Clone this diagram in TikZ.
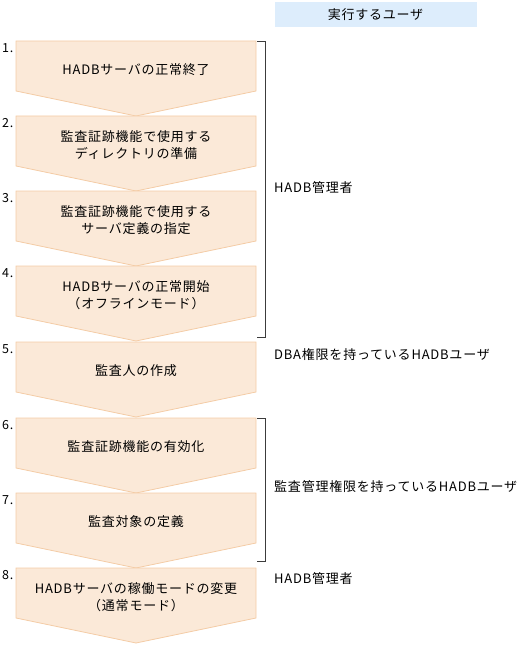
\documentclass[tikz,border=0pt]{standalone}
\usepackage{fontspec}
\setmainfont[LetterSpace=6]{Noto Sans CJK JP}
\definecolor{boxfill}{RGB}{251,233,216}
\definecolor{boxborder}{RGB}{244,204,166}
\definecolor{headfill}{RGB}{221,237,252}
\definecolor{bracketcol}{RGB}{60,60,60}
\tikzset{
  stepbox/.style={draw=boxborder, fill=boxfill, line width=0.8pt, line join=miter},
  steptext/.style={align=center, font=\fontsize{13}{17}\selectfont, inner sep=0pt},
  stepnum/.style={anchor=base west, font=\fontsize{12.5}{14}\selectfont, inner sep=0pt},
  userlabel/.style={anchor=west, font=\fontsize{13}{16}\selectfont, inner sep=0pt},
  headbox/.style={fill=headfill, draw=none, minimum width=202pt, minimum height=25pt, inner sep=0pt, font=\fontsize{13}{16}\selectfont},
  bracketline/.style={draw=bracketcol, line width=0.9pt},
}
\newcommand\flowstep[4]{%
  \draw[stepbox] (16,#2) -- (256,#2) -- (256,#2+50) -- (136,#2+75) -- (16,#2+50) -- cycle;
  \node[steptext] (#1) at (136,#2+29) {#4};
  \node[stepnum] (#1num) at (2,#2+11.5) {#3};
}
\begin{document}
\begin{tikzpicture}[x=1pt,y=-1pt]
\useasboundingbox (0,0) rectangle (519,647);
\node[headbox] (head) at (375.5,15) {実行するユーザ};
\flowstep{s1}{41}{1.}{HADBサーバの正常終了}
\flowstep{s2}{116}{2.}{監査証跡機能で使用する\\ディレクトリの準備}
\flowstep{s3}{191}{3.}{監査証跡機能で使用する\\サーバ定義の指定}
\flowstep{s4}{266}{4.}{HADBサーバの正常開始\\（オフラインモード）}
\flowstep{s5}{342}{5.}{監査人の作成}
\flowstep{s6}{418}{6.}{監査証跡機能の有効化}
\flowstep{s7}{493}{7.}{監査対象の定義}
\flowstep{s8}{568}{8.}{HADBサーバの稼働モードの変更\\（通常モード）}
\draw[bracketline] (257,41) -- (265,41) -- (265,337) -- (257,337);
\draw[bracketline] (257,418) -- (265,418) -- (265,561) -- (257,561);
\node[userlabel] (u1) at (274,188) {HADB管理者};
\node[userlabel] (u2) at (274,355) {DBA権限を持っているHADBユーザ};
\node[userlabel] (u3) at (274,487) {監査管理権限を持っているHADBユーザ};
\node[userlabel] (u4) at (274,579) {HADB管理者};
\end{tikzpicture}
\end{document}
